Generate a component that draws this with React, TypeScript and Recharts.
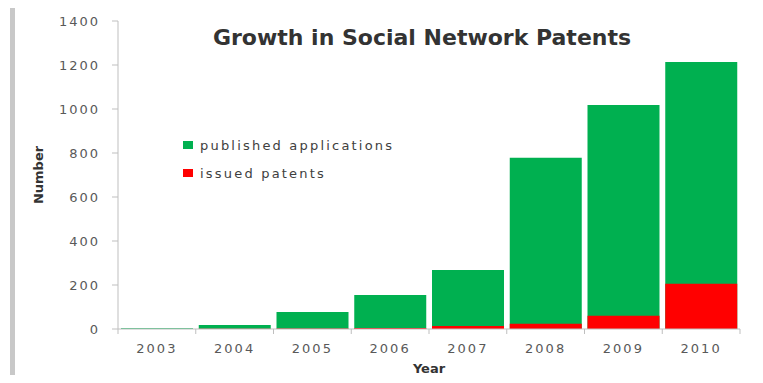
import { Bar, BarChart, Label, XAxis, YAxis } from 'recharts'

const years = ['2003', '2004', '2005', '2006', '2007', '2008', '2009', '2010']
const publishedApplications = [3, 18, 77, 155, 268, 778, 1018, 1214]
const issuedPatents = [0, 1, 2, 4, 14, 24, 60, 206]
const yTicks = [0, 200, 400, 600, 800, 1000, 1200, 1400]

const data = years.map((year, i) => ({
  year,
  published: publishedApplications[i],
  issued: issuedPatents[i],
}))

const W = 763
const H = 383
const LEFT = 118
const RIGHT = 23
const FONT = '"DejaVu Sans", sans-serif'
const TEXT = '#595959'
const AXIS = '#bfbfbf'
const GREEN = '#00b050'
const RED = '#ff0000'

const step = (W - LEFT - RIGHT) / years.length

function YearTick({ x, y, payload, index }: any) {
  const last = index === years.length - 1
  return (
    <g>
      <line x1={x - step / 2} x2={x - step / 2} y1={y} y2={y + 5} stroke={AXIS} />
      {last && <line x1={x + step / 2} x2={x + step / 2} y1={y} y2={y + 5} stroke={AXIS} />}
      <text
        x={x}
        y={y + 24}
        textAnchor="middle"
        fill={TEXT}
        fontSize={13}
        fontFamily={FONT}
        letterSpacing={2}
      >
        {payload.value}
      </text>
    </g>
  )
}

export default function App() {
  return (
    <div style={{ position: 'relative', width: W, height: H, background: '#fff', margin: -8 }}>
      <div
        style={{
          position: 'absolute',
          left: 10,
          top: 6,
          width: 745,
          height: 375,
          borderLeft: '5px solid #c8c8c8',
          borderTop: '1px solid #ececec',
          borderRight: '1px solid #ececec',
          borderBottom: '1px solid #d8d8d8',
        }}
      />
      <div
        style={{
          position: 'absolute',
          left: 0,
          width: 844,
          top: 25,
          textAlign: 'center',
          fontFamily: FONT,
          fontWeight: 'bold',
          fontSize: 22,
          color: '#333',
        }}
      >
        Growth in Social Network Patents
      </div>
      <div style={{ position: 'absolute', left: 183, top: 131, fontFamily: FONT, fontSize: 13, color: '#404040', letterSpacing: 2.2 }}>
        {[
          { label: 'published applications', color: GREEN },
          { label: 'issued patents', color: RED },
        ].map((item) => (
          <div key={item.label} style={{ display: 'flex', alignItems: 'center', height: 28 }}>
            <span style={{ width: 10, height: 8, background: item.color, marginRight: 7 }} />
            {item.label}
          </div>
        ))}
      </div>
      <BarChart
        width={W}
        height={H}
        data={data}
        margin={{ top: 21, right: RIGHT, left: 0, bottom: 0 }}
        barCategoryGap={3}
        style={{ position: 'absolute', left: 0, top: 0 }}
      >
        <XAxis
          xAxisId="main"
          dataKey="year"
          height={54}
          stroke={AXIS}
          tickLine={false}
          tickSize={0}
          tickMargin={0}
          tick={<YearTick />}
        >
          <Label
            value="Year"
            position="insideBottom"
            offset={10}
            fill="#333"
            fontSize={13}
            fontWeight="bold"
            fontFamily={FONT}
          />
        </XAxis>
        <XAxis xAxisId="overlay" dataKey="year" hide />
        <YAxis
          width={LEFT}
          domain={[0, 1400]}
          ticks={yTicks}
          stroke={AXIS}
          tickSize={6}
          tickMargin={12}
          tick={{ fill: TEXT, fontSize: 13, fontFamily: FONT, letterSpacing: 2 }}
        >
          <Label
            value="Number"
            angle={-90}
            position="insideLeft"
            offset={38}
            textAnchor="middle"
            fill="#333"
            fontSize={13}
            fontWeight="bold"
            fontFamily={FONT}
          />
        </YAxis>
        <Bar xAxisId="main" dataKey="published" fill={GREEN} isAnimationActive={false} />
        <Bar xAxisId="overlay" dataKey="issued" fill={RED} isAnimationActive={false} />
      </BarChart>
    </div>
  )
}
